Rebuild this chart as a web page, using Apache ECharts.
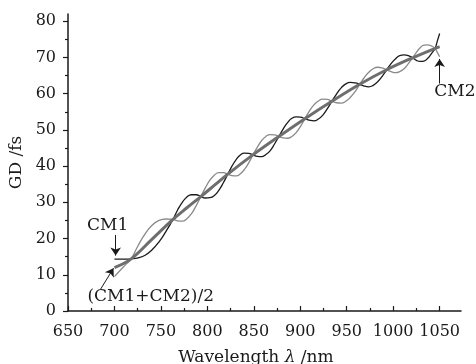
<!DOCTYPE html>
<html><head><meta charset="utf-8">
<script src="https://cdn.jsdelivr.net/npm/echarts@6/dist/echarts.min.js"></script>
<style>html,body{margin:0;padding:0;background:#fff}#c{width:476px;height:364px}</style>
</head><body><div id="c"></div>
<script>
const wavelengthNm = [700,706,712,718,725.5,733,740.5,748,755.5,763,768,773,778,783,788,793,797.8,802.7,807.5,812.3,817.2,822,826.5,831,835.5,840,844.5,849,853.7,858.3,863,867.7,872.3,877,881.7,886.3,891,895.7,900.3,905,909.8,914.7,919.5,924.3,929.2,934,939,944,949,954,959,964,968.8,973.7,978.5,983.3,988.2,993,997.7,1002.3,1007,1011.7,1016.3,1021,1025,1029,1033,1037,1041,1045,1047.5,1050];
const cm1Gd = [14.3,14.3,14.3,14.4,14.7,15.4,16.9,19.1,22.0,25.3,27.9,30.0,31.5,32.1,32.1,31.6,31.2,31.3,31.9,33.3,35.4,37.8,40.0,41.8,43.1,43.6,43.5,43.1,42.7,42.6,43.2,44.3,46.1,48.2,50.3,52.0,53.2,53.6,53.5,53.1,52.7,52.5,53.0,54.1,55.9,57.9,59.9,61.6,62.7,63.1,63.0,62.6,62.1,61.9,62.3,63.3,64.8,66.6,68.3,69.6,70.5,70.7,70.5,69.9,69.2,68.9,69.0,69.7,71.0,72.5,74.5,76.6];
const cm2Gd = [9.5,11.2,12.8,14.4,18.1,21.3,23.7,25.0,25.4,25.3,24.9,24.8,25.5,26.9,29.1,31.6,34.0,36.1,37.5,38.2,38.2,37.8,37.4,37.3,37.9,39.1,40.9,43.1,45.2,47.0,48.2,48.7,48.6,48.2,47.8,47.7,48.2,49.3,51.0,53.1,55.2,56.9,58.0,58.5,58.4,57.9,57.5,57.4,57.9,59.0,60.6,62.6,64.4,65.9,66.9,67.3,67.1,66.6,66.1,65.8,66.1,66.9,68.3,69.9,71.4,72.7,73.4,73.5,73.2,72.5,71.4,70.2];
const meanWavelengthNm = [700,718,740,763,778,793,808,822,849,877,905,934,964,993,1021,1050];
const meanGd = [12.0,14.4,19.7,25.3,28.5,31.6,34.8,37.8,43.1,48.2,53.1,57.9,62.6,66.6,69.9,73.0];
const xTickLabels = [650,700,750,800,850,900,950,1000,1050];
const xMinorTicks = [675,725,775,825,875,925,975,1025];
const yTickLabels = [0,10,20,30,40,50,60,70,80];
const yMinorTicks = [5,15,25,35,45,55,65,75];

const FONT = 'DejaVu Serif';
const INK = '#1a1a1a';
const pairs = (xs, ys) => xs.map((x, i) => [x, ys[i]]);

const chart = echarts.init(document.getElementById('c'), null, {renderer: 'canvas'});
const baseX = {type: 'value', min: 650, max: 1073, position: 'bottom', splitLine: {show: false}};
const baseY = {type: 'value', min: 0, max: 82, position: 'left', splitLine: {show: false}};
chart.setOption({
  animation: false,
  backgroundColor: '#fff',
  grid: {left: 68, right: 15, top: 14, bottom: 53, containLabel: false, outerBoundsMode: 'none'},
  xAxis: [
    Object.assign({}, baseX, {
      name: '{a|Wavelength }{b|λ}{a| /nm}',
      nameLocation: 'middle', nameGap: 38,
      nameTextStyle: {padding: [0, 17, 0, 0], rich: {
        a: {fontFamily: FONT, fontSize: 17, color: INK},
        b: {fontFamily: FONT, fontSize: 17, fontStyle: 'italic', color: INK}}},
      axisLine: {show: true, lineStyle: {color: INK, width: 1.5}},
      axisTick: {show: true, inside: true, length: 5, customValues: xTickLabels, lineStyle: {color: INK, width: 1.2}},
      axisLabel: {show: true, margin: 13, customValues: xTickLabels, formatter: v => String(v), fontFamily: FONT, fontSize: 16, color: INK}
    }),
    Object.assign({}, baseX, {
      axisLine: {show: false},
      axisTick: {show: true, inside: true, length: 3, customValues: xMinorTicks, lineStyle: {color: INK, width: 1.2}},
      axisLabel: {show: false}
    })
  ],
  yAxis: [
    Object.assign({}, baseY, {
      name: 'GD /fs', nameLocation: 'middle', nameGap: 41,
      nameTextStyle: {fontFamily: FONT, fontSize: 17, color: INK},
      axisLine: {show: true, lineStyle: {color: INK, width: 1.5}},
      axisTick: {show: true, inside: false, length: 5, customValues: yTickLabels, lineStyle: {color: INK, width: 1.2}},
      axisLabel: {show: true, margin: 12, customValues: yTickLabels, formatter: v => String(v), fontFamily: FONT, fontSize: 16, color: INK}
    }),
    Object.assign({}, baseY, {
      axisLine: {show: false},
      axisTick: {show: true, inside: false, length: 3, customValues: yMinorTicks, lineStyle: {color: INK, width: 1.2}},
      axisLabel: {show: false}
    })
  ],
  series: [
    {
      name: 'CM2', type: 'line', smooth: 0.5, symbol: 'none',
      data: pairs(wavelengthNm, cm2Gd),
      lineStyle: {color: '#8a8a8a', width: 1.3}, z: 2
    },
    {
      name: 'CM1', type: 'line', smooth: 0.5, symbol: 'none',
      data: pairs(wavelengthNm, cm1Gd),
      lineStyle: {color: '#1a1a1a', width: 1.3}, z: 3,
      markLine: {
        silent: true, animation: false,
        symbol: ['none', 'arrow'], symbolSize: 8,
        label: {show: false},
        lineStyle: {color: INK, width: 1, type: 'solid'},
        itemStyle: {color: INK},
        emphasis: {disabled: true},
        data: [
          [{coord: [701.3, 21.0]}, {coord: [701.3, 15.3]}],
          [{coord: [685.0, 6.0]}, {coord: [699.0, 11.8]}],
          [{coord: [1050.0, 62.8]}, {coord: [1050.0, 69.6]}]
        ]
      },
      markPoint: {
        silent: true, animation: false,
        symbol: 'circle', symbolSize: 1,
        itemStyle: {color: 'rgba(0,0,0,0)'},
        label: {show: true, position: 'inside', fontFamily: FONT, fontSize: 17, color: INK},
        data: [
          {coord: [692.7, 23.7], label: {formatter: 'CM1'}},
          {coord: [739.0, 3.9], label: {formatter: '(CM1+CM2)/2'}},
          {coord: [1066.5, 60.6], label: {formatter: 'CM2'}}
        ]
      }
    },
    {
      name: '(CM1+CM2)/2', type: 'line', smooth: 0.4, symbol: 'none',
      data: pairs(meanWavelengthNm, meanGd),
      lineStyle: {color: '#6e6e6e', width: 3}, z: 4
    }
  ]
});
</script>
</body></html>
